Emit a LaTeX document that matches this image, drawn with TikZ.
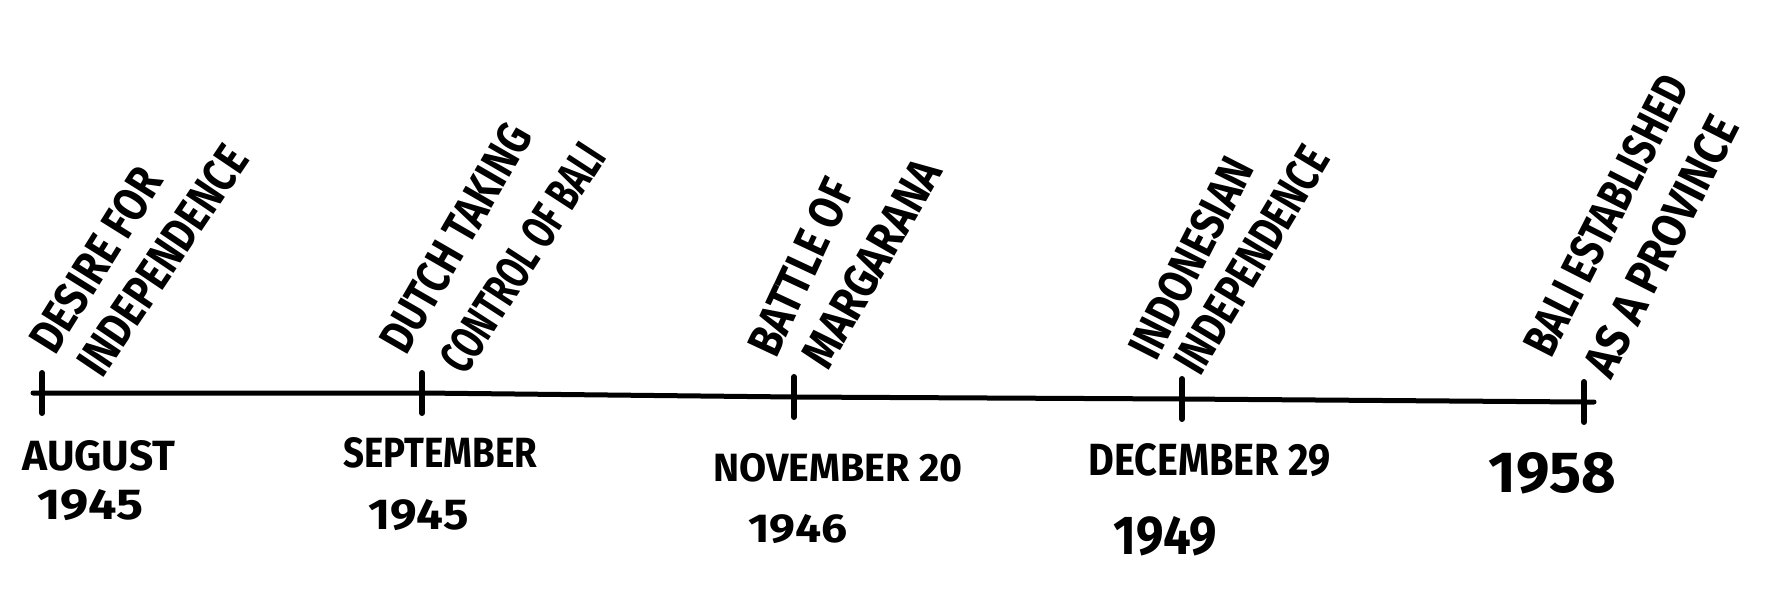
\documentclass[tikz,border=0pt]{standalone}
\usepackage{fontspec}
\newfontfamily\hand{Fira Sans}
\newcommand{\hw}[3]{\resizebox{#1pt}{#2pt}{\hand\bfseries #3}}
\tikzset{
  lbl/.style={inner sep=0pt, anchor=base west},
  axisline/.style={line width=2.5pt, line cap=round, line join=round},
  tickmark/.style={line width=3pt, line cap=round},
}
\begin{document}
\begin{tikzpicture}[x=0.5pt,y=-0.5pt]
\fill[white] (0,0) rectangle (1776,610);
\useasboundingbox (0,0) rectangle (1776,610);
% axis
\coordinate (s) at (33,393);
\coordinate (t1) at (42,393);
\coordinate (t2) at (422,393);
\coordinate (t3) at (794,397);
\coordinate (t4) at (1182,399);
\coordinate (t5) at (1584,402);
\coordinate (e) at (1594,402);
\draw[axisline] (s) -- (t1) -- (t2) -- (t3) -- (t4) -- (t5) -- (e);
\foreach \t in {t1,t2,t3,t4,t5}
  \draw[tickmark] ([yshift=10pt]\t) -- ([yshift=-10pt]\t);
% event labels
\node[lbl, rotate=58] (e1a) at (55,357) {\hw{103.5}{17}{DESIRE FOR}};
\node[lbl, rotate=56] (e1b) at (102,380) {\hw{132.5}{17}{INDEPENDENCE}};
\node[lbl, rotate=60] (e2a) at (406,357) {\hw{127.5}{17}{DUTCH TAKING}};
\node[lbl, rotate=57] (e2b) at (465,377) {\hw{131}{17}{CONTROL OF BALI}};
\node[lbl, rotate=65] (e3a) at (776,360) {\hw{94}{17}{BATTLE OF}};
\node[lbl, rotate=60] (e3b) at (828,372) {\hw{115.5}{17}{MARGARANA}};
\node[lbl, rotate=63] (e4a) at (1156,363) {\hw{109}{17}{INDONESIAN}};
\node[lbl, rotate=59] (e4b) at (1200,378) {\hw{127.5}{17}{INDEPENDENCE}};
\node[lbl, rotate=63] (e5a) at (1551,360) {\hw{153.5}{17}{BALI ESTABLISHED}};
\node[lbl, rotate=63] (e5b) at (1611,381) {\hw{142.5}{17}{AS A PROVINCE}};
% dates
\node[lbl] (d1a) at (22,470) {\hw{76.5}{15}{AUGUST}};
\node[lbl] (d1b) at (37,519) {\hw{53}{15}{1945}};
\node[lbl] (d2a) at (343,467) {\hw{97}{15}{SEPTEMBER}};
\node[lbl] (d2b) at (368,529) {\hw{50}{15}{1945}};
\node[lbl] (d3a) at (713,481) {\hw{124.5}{14}{NOVEMBER 20}};
\node[lbl] (d3b) at (748,542) {\hw{49.5}{14}{1946}};
\node[lbl] (d4a) at (1088,475) {\hw{121}{16}{DECEMBER 29}};
\node[lbl] (d4b) at (1113,554) {\hw{52}{19}{1949}};
\node[lbl] (d5) at (1488,492) {\hw{64}{20}{1958}};
\end{tikzpicture}
\end{document}
